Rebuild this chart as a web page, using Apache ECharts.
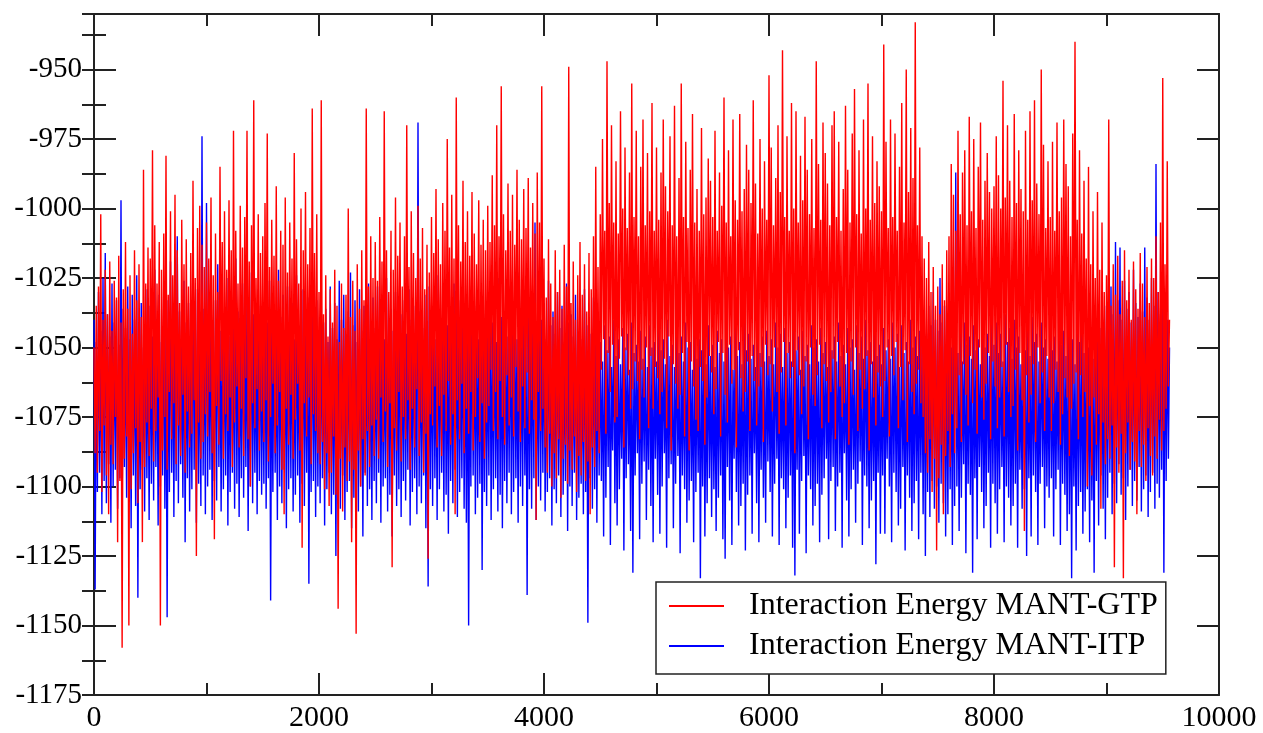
<!DOCTYPE html>
<html>
<head>
<meta charset="utf-8">
<style>
  html, body { margin: 0; padding: 0; background: #fff; }
  #chart { width: 1263px; height: 733px; }
</style>
<script src="https://cdn.jsdelivr.net/npm/echarts@6/dist/echarts.min.js"></script>
</head>
<body>
<div id="chart"></div>
<script>
// ---- data ----
const seriesNames = ['Interaction Energy MANT-GTP', 'Interaction Energy MANT-ITP'];
const timeStep = 10; // frames between samples
const xRange = [0, 10000];
const xTickStep = 2000;
const yRange = [-1175, -930];
const yTickStep = 25;
const yMinorStep = 12.5;

const gtpValues = [
  -1050,-1088,-1035,-1095,-1028,-1080,-1002,-1102,-1040,-1078,-1022,-1096,-1038,-1110,-1019,-1085,-1044,-1092,-1026,-1075,-1032,-1120,-1017,-1098,-1041,-1158,-1029,-1090,-1012,-1082,-1036,-1150,-1024,-1101,-1045,-1088,-1015,-1079,-1033,-1106,-1020,-1084,-1039,-1120,-986,-1093,-1027,-1077,-1014,-1089,
  -1018,-1072,-979,-1091,-1006,-1080,-1027,-1068,-1012,-1150,-1022,-1087,-1009,-1075,-981,-1094,-1031,-1066,-1001,-1083,-1024,-1070,-995,-1092,-1015,-1078,-1034,-1089,-1004,-1067,-1020,-1095,-1011,-1073,-1028,-1086,-1016,-1081,-990,-1069,-1025,-1125,-1007,-1077,-999,-1090,-1013,-1084,-1021,-1074,
  -1005,-1082,-1018,-1066,-996,-1088,-1024,-1119,-1009,-1071,-1030,-1085,-985,-1062,-1012,-1090,-1001,-1074,-1022,-1080,-997,-1068,-1015,-1093,-972,-1077,-1008,-1064,-1027,-1086,-999,-1072,-1014,-1089,-1003,-1061,-972,-1083,-1019,-1100,-1006,-1070,-961,-1079,-1025,-1065,-1002,-1087,-1016,-1073,
  -1010,-1084,-998,-1069,-973,-1091,-1021,-1075,-1004,-1063,-1017,-1088,-992,-1078,-1026,-1066,-1008,-1094,-1013,-1110,-996,-1072,-1023,-1085,-1005,-1067,-1018,-1090,-980,-1076,-1011,-1063,-1027,-1087,-1000,-1122,-1015,-1070,-994,-1082,-1020,-1068,-1007,-1092,-964,-1074,-1016,-1080,-1002,-1088,
  -1030,-1092,-961,-1084,-1038,-1101,-1024,-1088,-1046,-1107,-1029,-1095,-1041,-1082,-1022,-1103,-1035,-1144,-1048,-1090,-1027,-1109,-1043,-1086,-1031,-1098,-1000,-1091,-1039,-1120,-1026,-1094,-1044,-1153,-1020,-1087,-1036,-1100,-1015,-1083,-1033,-1096,-964,-1080,-1028,-1093,-1010,-1078,-1025,-1089,
  -1012,-1076,-1026,-1090,-1003,-1068,-1019,-1084,-965,-1073,-1015,-1093,-1030,-1070,-1008,-1129,-1022,-1079,-996,-1087,-1017,-1066,-1005,-1091,-1028,-1075,-1010,-1083,-970,-1069,-1021,-1094,-1001,-1072,-1016,-1086,-1025,-1065,-999,-1089,-1018,-1077,-1007,-1095,-1029,-1081,-1013,-1126,-1023,-1074,
  -1003,-1078,-1016,-1064,-993,-1086,-1011,-1071,-1020,-1089,-998,-1067,-1008,-1080,-975,-1062,-1014,-1085,-995,-1074,-1018,-1110,-960,-1069,-1006,-1083,-1019,-1063,-990,-1088,-1012,-1072,-1001,-1081,-1017,-1066,-994,-1087,-1009,-1075,-1020,-1061,-997,-1084,-1013,-1070,-1004,-1090,-1015,-1077,
  -999,-1071,-1012,-1058,-988,-1080,-1006,-1066,-970,-1083,-1010,-1062,-956,-1075,-1002,-1085,-1015,-1060,-991,-1078,-1008,-1068,-995,-1082,-1013,-1057,-986,-1073,-1004,-1084,-1011,-1064,-993,-1079,-1007,-1059,-989,-1081,-1014,-1069,-998,-1076,-1009,-1112,-987,-1066,-1005,-1080,-956,-1072,
  -1018,-1086,-1032,-1095,-1011,-1081,-1027,-1100,-1039,-1088,-1015,-1097,-1030,-1083,-1022,-1104,-1036,-1090,-1013,-1085,-1028,-1099,-949,-1087,-1034,-1094,-1019,-1082,-1040,-1102,-1024,-1089,-1012,-1096,-1031,-1084,-1020,-1098,-1037,-1091,-1016,-1110,-1029,-1086,-1010,-1093,-985,-1080,-1021,-1088,
  -1002,-1058,-975,-1047,-1008,-1081,-947,-1052,-998,-1066,-970,-1049,-1005,-1077,-983,-1075,-1009,-1054,-965,-1046,-1000,-1086,-978,-1051,-1007,-1060,-987,-1072,-955,-1065,-1003,-1055,-972,-1062,-1010,-1083,-985,-1058,-968,-1068,-1006,-1050,-980,-1079,-1001,-1053,-962,-1072,-1008,-1057,
  -978,-1061,-1004,-1074,-987,-1066,-968,-1054,-992,-1079,-1001,-1046,-974,-1087,-1006,-1056,-963,-1063,-1010,-1072,-989,-1067,-955,-1052,-1003,-1082,-976,-1048,-1007,-1087,-986,-1055,-966,-1064,-1005,-1076,-993,-1080,-1008,-1057,-971,-1062,-1002,-1085,-996,-1068,-982,-1053,-990,-1059,
  -1003,-1074,-972,-1065,-1008,-1048,-987,-1082,-999,-1052,-960,-1067,-1005,-1077,-979,-1049,-1010,-1063,-968,-1058,-997,-1086,-1004,-1051,-966,-1061,-1001,-1073,-993,-1066,-977,-1055,-986,-1080,-998,-1053,-961,-1062,-991,-1078,-1009,-1064,-975,-1057,-1000,-1084,-983,-1049,-1004,-1060,
  -952,-1056,-978,-1073,-1006,-1050,-989,-1066,-970,-1081,-994,-1059,-943,-1048,-1003,-1078,-974,-1052,-1008,-1061,-962,-1057,-1000,-1088,-965,-1051,-1005,-1060,-981,-1074,-997,-1064,-967,-1055,-986,-1083,-1002,-1050,-975,-1067,-1007,-1071,-947,-1060,-984,-1049,-1004,-1079,-969,-1056,
  -980,-1062,-991,-1077,-1006,-1066,-970,-1054,-965,-1083,-1003,-1048,-976,-1064,-1008,-1075,-993,-1070,-963,-1052,-986,-1085,-1005,-1055,-973,-1067,-957,-1050,-1002,-1080,-979,-1058,-1009,-1072,-968,-1065,-1000,-1053,-955,-1087,-1004,-1056,-974,-1068,-998,-1078,-983,-1059,-992,-1064,
  -1001,-1075,-941,-1062,-976,-1050,-1007,-1082,-968,-1053,-1003,-1060,-973,-1048,-1008,-1079,-985,-1057,-962,-1069,-1005,-1051,-950,-1084,-994,-1056,-971,-1066,-989,-1074,-933,-1063,-1006,-1058,-978,-1070,-1010,-1075,-1018,-1088,-1025,-1095,-1012,-1083,-1030,-1102,-1021,-1090,-1035,-1123,
  -1028,-1097,-1038,-1085,-1020,-1110,-1033,-1089,-1015,-1080,-1010,-1093,-984,-1074,-995,-1088,-1008,-1079,-972,-1060,-1002,-1084,-987,-1056,-979,-1067,-1006,-1078,-967,-1053,-1001,-1070,-975,-1058,-1007,-1081,-985,-1050,-969,-1068,-1004,-1076,-990,-1063,-980,-1052,-994,-1083,-1000,-1055,
  -992,-1064,-974,-1079,-988,-1068,-1000,-1057,-954,-1082,-996,-1049,-970,-1066,-990,-1075,-1003,-1071,-966,-1058,-998,-1087,-979,-1052,-993,-1069,-1001,-1116,-972,-1060,-1004,-1077,-965,-1067,-997,-1056,-961,-1084,-991,-1050,-1002,-1070,-950,-1059,-977,-1080,-1007,-1053,-983,-1068,
  -1003,-1080,-976,-1070,-1008,-1058,-969,-1066,-1001,-1085,-996,-1074,-968,-1061,-984,-1068,-992,-1089,-1010,-1072,-973,-1063,-940,-1059,-1004,-1083,-979,-1060,-1009,-1075,-990,-1066,-1018,-1100,-985,-1071,-1020,-1096,-1001,-1068,-1025,-1085,-994,-1074,-1022,-1108,-1005,-1077,-1030,-1092,
  -1024,-1083,-968,-1090,-1035,-1078,-1020,-1129,-1031,-1086,-1017,-1095,-1038,-1081,-1026,-1133,-1015,-1088,-1033,-1077,-1022,-1094,-1040,-1084,-1019,-1091,-1029,-1110,-1036,-1080,-1016,-1093,-1027,-1085,-1039,-1098,-1021,-1079,-1034,-1089,-1018,-1096,-1025,-1082,-1010,-1090,-1030,-1076,-1005,-1087,
  -953,-1080,-1020,-1072,-983,-1064,-1040
];

const itpValues = [
  -1040,-1137,-1048,-1102,-1030,-1095,-1044,-1110,-1025,-1098,-1016,-1106,-1038,-1092,-1046,-1113,-1027,-1100,-1041,-1094,-1033,-1108,-1049,-1097,-997,-1111,-1036,-1093,-1043,-1104,-1028,-1099,-1047,-1115,-1031,-1096,-1040,-1107,-1024,-1140,-1045,-1101,-1034,-1094,-1050,-1109,-1029,-1097,-1042,-1112,
  -1035,-1099,-1046,-1105,-1022,-1093,-1040,-1114,-1031,-1100,-1048,-1096,-1027,-1108,-1043,-1147,-1033,-1102,-1019,-1095,-1044,-1111,-1030,-1098,-1010,-1106,-1037,-1092,-1049,-1104,-1026,-1120,-1041,-1097,-1034,-1109,-1047,-1101,-1021,-1094,-1039,-1113,-1029,-1099,-1045,-1107,-974,-1096,-1036,-1110,
  -998,-1100,-1042,-1094,-1028,-1112,-1047,-1098,-1033,-1105,-1020,-1093,-1044,-1109,-1030,-1101,-1039,-1096,-1025,-1114,-1046,-1102,-1032,-1095,-1041,-1108,-1018,-1099,-1037,-1111,-1045,-1097,-1027,-1104,-1040,-1093,-1031,-1116,-1048,-1100,-1023,-1106,-1038,-1095,-1044,-1110,-1029,-1098,-1035,-1103,
  -1046,-1099,-1030,-1108,-1041,-1097,-1026,-1141,-1043,-1102,-1035,-1095,-1048,-1112,-1022,-1100,-1039,-1106,-1031,-1094,-1045,-1115,-1028,-1101,-1040,-1097,-1034,-1109,-1047,-1103,-1024,-1096,-1042,-1113,-1036,-1099,-1029,-1107,-1044,-1095,-1032,-1135,-1046,-1102,-1027,-1098,-1040,-1111,-1033,-1100,
  -1045,-1106,-1030,-1097,-1041,-1114,-1036,-1101,-1048,-1095,-1028,-1110,-1043,-1103,-1034,-1125,-1047,-1099,-1026,-1108,-1040,-1096,-1031,-1112,-1045,-1102,-1037,-1098,-1023,-1115,-1042,-1104,-1033,-1097,-1048,-1109,-1029,-1100,-1044,-1118,-1035,-1095,-1040,-1107,-1027,-1101,-1046,-1112,-1032,-1098,
  -1043,-1106,-1028,-1095,-1039,-1113,-1034,-1100,-1047,-1097,-1025,-1109,-1041,-1103,-1036,-1118,-1044,-1096,-1030,-1107,-1046,-1101,-1022,-1111,-1038,-1098,-1033,-1105,-1045,-1094,-1029,-1114,-1040,-1102,-1035,-1097,-1048,-1110,-969,-1100,-1037,-1106,-1043,-1096,-1031,-1115,-1046,-1136,-1028,-1101,
  -1041,-1107,-1034,-1097,-1047,-1112,-1024,-1101,-1039,-1095,-1045,-1109,-1030,-1103,-1042,-1117,-1036,-1098,-1048,-1106,-1027,-1094,-1040,-1111,-1033,-1102,-1046,-1097,-1029,-1108,-1043,-1113,-1037,-1150,-1044,-1100,-1026,-1096,-1040,-1110,-1035,-1104,-1047,-1099,-1031,-1130,-1042,-1102,-1038,-1107,
  -1045,-1096,-1029,-1112,-1041,-1101,-1034,-1097,-1048,-1109,-1025,-1103,-1039,-1115,-1044,-1098,-1032,-1106,-1046,-1095,-1028,-1110,-1040,-1102,-1036,-1097,-1047,-1113,-1023,-1100,-1042,-1107,-1035,-1096,-1045,-1139,-1030,-1101,-1041,-1108,-1037,-1097,-1005,-1112,-1044,-1100,-1029,-1105,-1040,-1095,
  -1034,-1109,-1047,-1102,-1026,-1097,-1042,-1114,-1037,-1101,-1045,-1106,-1030,-1096,-1043,-1111,-1035,-1103,-1048,-1098,-1027,-1116,-1041,-1100,-1038,-1107,-1046,-1095,-1031,-1112,-1044,-1104,-1036,-1099,-1047,-1110,-1029,-1102,-1042,-1149,-1039,-1097,-1045,-1108,-1032,-1101,-1043,-1113,-1037,-1096,
  -1048,-1098,-1055,-1118,-1042,-1104,-1051,-1093,-1046,-1121,-1057,-1087,-1040,-1106,-1053,-1114,-1047,-1101,-1056,-1090,-1043,-1123,-1050,-1097,-1045,-1092,-1058,-1116,-1041,-1131,-1052,-1096,-1049,-1088,-1055,-1119,-1044,-1099,-1054,-1091,-1046,-1112,-1057,-1094,-1042,-1107,-1050,-1120,-1048,-1090,
  -1055,-1103,-1043,-1117,-1051,-1100,-1047,-1088,-1056,-1122,-1040,-1097,-1053,-1092,-1049,-1115,-1057,-1099,-1044,-1089,-1052,-1124,-1046,-1096,-1055,-1101,-1041,-1113,-1050,-1105,-1048,-1098,-1058,-1120,-1043,-1102,-1054,-1095,-1047,-1133,-1051,-1100,-1045,-1118,-1056,-1106,-1042,-1097,-1053,-1111,
  -1049,-1101,-1057,-1116,-1044,-1104,-1052,-1096,-1047,-1119,-1055,-1126,-1041,-1093,-1050,-1105,-1046,-1121,-1058,-1090,-1043,-1102,-1053,-1114,-1048,-1107,-1056,-1099,-1040,-1123,-1051,-1103,-1045,-1096,-1054,-1117,-1049,-1088,-1057,-1106,-1042,-1120,-1052,-1094,-1046,-1104,-1055,-1113,-1044,-1091,
  -1053,-1102,-1047,-1118,-1056,-1099,-1041,-1090,-1050,-1121,-1045,-1097,-1057,-1101,-1043,-1115,-1052,-1104,-1048,-1096,-1055,-1122,-1040,-1132,-1051,-1094,-1046,-1117,-1058,-1098,-1044,-1089,-1053,-1124,-1049,-1096,-1056,-1101,-1042,-1114,-1050,-1107,-1047,-1099,-1055,-1120,-1043,-1103,-1052,-1097,
  -1048,-1090,-1057,-1119,-1044,-1098,-1051,-1093,-1046,-1116,-1055,-1100,-1041,-1095,-1053,-1122,-1049,-1088,-1056,-1105,-1043,-1118,-1050,-1101,-1047,-1094,-1058,-1113,-1042,-1099,-1052,-1091,-1046,-1121,-1054,-1096,-1040,-1100,-1051,-1115,-1048,-1105,-1055,-1098,-1044,-1128,-1053,-1095,-1049,-1117,
  -1056,-1096,-1043,-1117,-1051,-1090,-1047,-1100,-1054,-1120,-1041,-1095,-1050,-1102,-1045,-1114,-1057,-1108,-1042,-1093,-1052,-1123,-1048,-1096,-1055,-1104,-1040,-1116,-1050,-1106,-1046,-1098,-1053,-1119,-1044,-1095,-1049,-1110,-1038,-1125,-1045,-1102,-1035,-1111,-1042,-1098,-1030,-1108,-1040,-1100,
  -1044,-1113,-1025,-1099,-1041,-1106,-1035,-1118,-1048,-1110,-1038,-1101,-1050,-1121,-1043,-1107,-987,-1100,-1052,-1116,-1045,-1104,-1055,-1092,-1041,-1124,-1049,-1099,-1046,-1103,-1054,-1131,-1042,-1097,-1051,-1119,-1047,-1093,-1056,-1102,-1043,-1115,-1050,-1107,-1045,-1095,-1053,-1122,-1040,-1099,
  -1049,-1106,-1041,-1117,-1052,-1101,-1045,-1093,-1055,-1120,-1038,-1100,-1048,-1104,-1043,-1114,-1054,-1107,-1040,-1099,-1050,-1122,-1046,-1094,-1056,-1108,-1042,-1101,-1051,-1125,-1044,-1097,-1053,-1118,-1039,-1096,-1048,-1102,-1045,-1121,-1055,-1099,-1041,-1093,-1050,-1115,-1047,-1100,-1054,-1104,
  -1043,-1097,-1051,-1118,-1046,-1101,-1055,-1094,-1040,-1121,-1049,-1099,-1044,-1103,-1053,-1116,-1042,-1110,-1050,-1133,-1047,-1100,-1056,-1123,-1039,-1107,-1048,-1102,-1045,-1117,-1052,-1109,-1041,-1101,-1050,-1120,-1046,-1105,-1054,-1131,-1038,-1098,-1047,-1114,-1043,-1096,-1051,-1108,-1040,-1119,
  -1035,-1104,-1042,-1095,-1028,-1110,-1038,-1099,-1012,-1106,-1033,-1092,-1014,-1103,-1040,-1097,-1026,-1112,-1036,-1100,-1030,-1094,-1041,-1107,-1022,-1098,-1034,-1105,-1039,-1093,-1027,-1109,-1037,-1101,-1014,-1096,-1032,-1111,-1040,-1102,-1025,-1095,-1035,-1108,-984,-1099,-1030,-1104,-1038,-1094,
  -1019,-1131,-1030,-1098,-1040,-1090,-1050
];

// ---- chart ----
function toPoints(values) {
  return values.map((v, i) => [i * timeStep, v]);
}

const serif = "'Liberation Serif', 'DejaVu Serif', serif";
const ink = '#222';
const plain = v => String(v);

function xAxisCfg(pos, showLabel) {
  return {
    type: 'value', position: pos, min: xRange[0], max: xRange[1], interval: xTickStep,
    axisLine: { show: true, onZero: false, lineStyle: { color: ink, width: 2 } },
    axisTick: { show: true, inside: true, length: 22, lineStyle: { color: ink, width: 2 } },
    minorTick: { show: true, splitNumber: 2, length: 12, lineStyle: { color: ink, width: 2 } },
    axisLabel: { show: showLabel, formatter: plain, color: '#000', fontFamily: serif, fontSize: 30, margin: 8 },
    splitLine: { show: false }, minorSplitLine: { show: false }
  };
}
function yAxisCfg(pos, showLabel) {
  return {
    type: 'value', position: pos, min: yRange[0], max: yRange[1], interval: yTickStep,
    axisLine: { show: true, onZero: false, lineStyle: { color: ink, width: 2 } },
    axisTick: { show: true, inside: true, length: 22, lineStyle: { color: ink, width: 2 } },
    axisLabel: { show: showLabel, showMaxLabel: false, formatter: plain, color: '#000', fontFamily: serif, fontSize: 29, margin: 12 },
    splitLine: { show: false }
  };
}
function yMinorCfg(pos) {
  return {
    type: 'value', position: pos, min: yRange[0], max: yRange[1], interval: yMinorStep,
    axisLine: { show: false },
    axisTick: { show: true, inside: true, length: 12, lineStyle: { color: ink, width: 2 } },
    axisLabel: { show: false },
    splitLine: { show: false }
  };
}

const chart = echarts.init(document.getElementById('chart'), null, { renderer: 'canvas' });
chart.setOption({
  animation: false,
  backgroundColor: '#fff',
  grid: { left: 94, right: 44, top: 14, bottom: 37, containLabel: false },
  xAxis: [xAxisCfg('bottom', true), xAxisCfg('top', false)],
  yAxis: [yAxisCfg('left', true), yAxisCfg('right', false), yMinorCfg('left'), yMinorCfg('right')],
  legend: {
    orient: 'vertical',
    left: 656, top: 582,
    data: [seriesNames[0], seriesNames[1]],
    icon: 'rect',
    itemWidth: 55, itemHeight: 2, itemGap: 8,
    padding: [8, 8, 12, 13],
    backgroundColor: '#fff',
    borderColor: ink, borderWidth: 1.5, borderRadius: 0,
    textStyle: { fontFamily: serif, fontSize: 32, lineHeight: 32, color: '#000', padding: [0, 0, 0, 20] }
  },
  series: [
    {
      name: seriesNames[1], type: 'line', xAxisIndex: 0, yAxisIndex: 0,
      data: toPoints(itpValues), symbol: 'none', showSymbol: false,
      lineStyle: { color: '#0000ff', width: 1.4 }, itemStyle: { color: '#0000ff' },
      emphasis: { disabled: true }
    },
    {
      name: seriesNames[0], type: 'line', xAxisIndex: 0, yAxisIndex: 0,
      data: toPoints(gtpValues), symbol: 'none', showSymbol: false,
      lineStyle: { color: '#ff0000', width: 1.4 }, itemStyle: { color: '#ff0000' },
      emphasis: { disabled: true }
    }
  ]
});
</script>
</body>
</html>
